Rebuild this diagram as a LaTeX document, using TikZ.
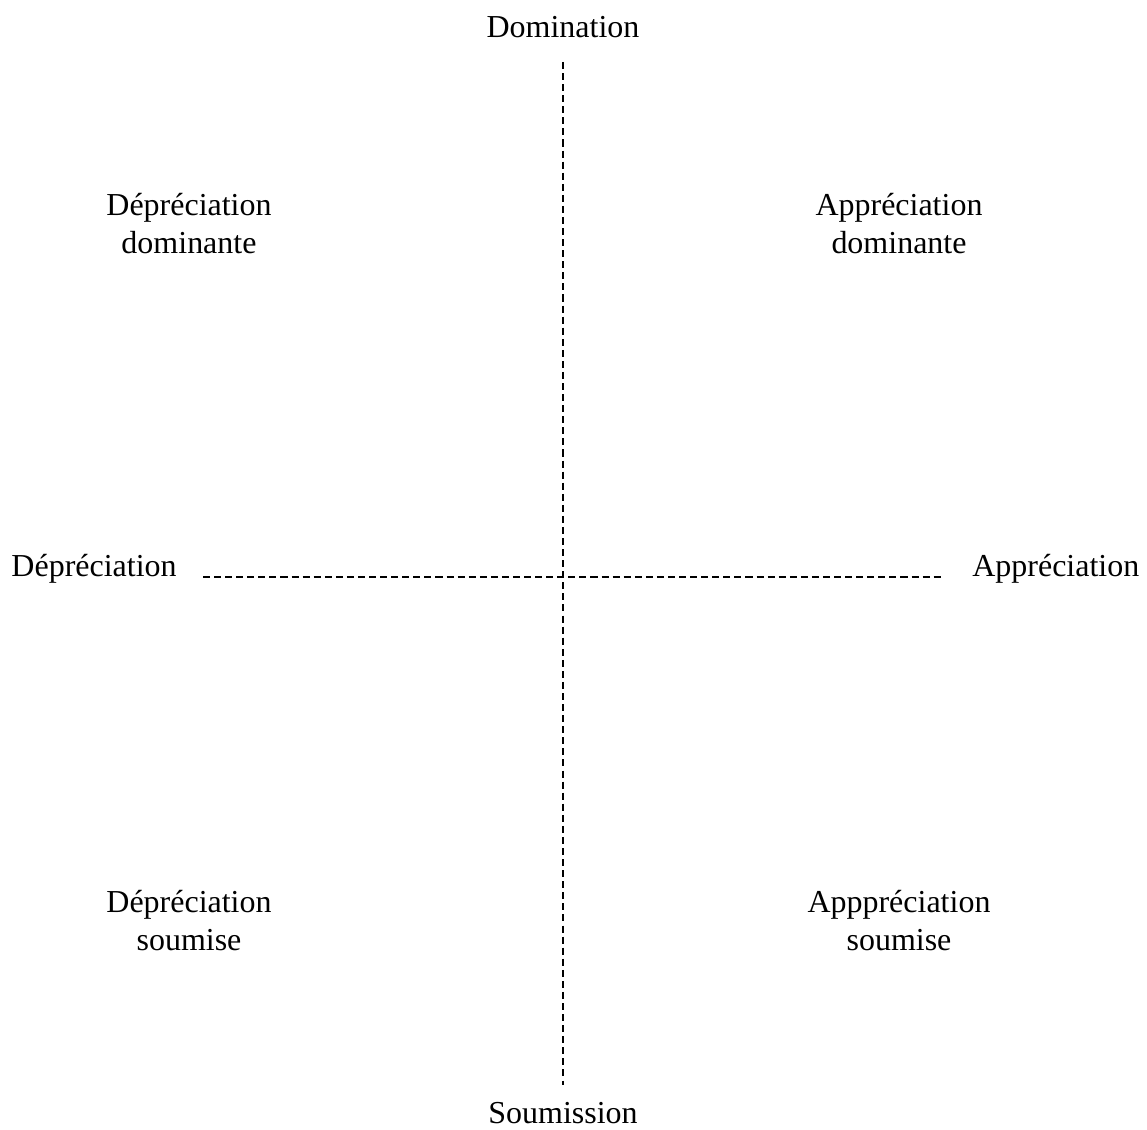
\documentclass[tikz,border=0pt]{standalone}
\usepackage{fontspec}
\setmainfont{Liberation Serif}

\begin{document}
\begin{tikzpicture}[
        axe/.style={dash pattern=on 4pt off 2.3pt, line width=0.75pt},
        etiquette/.style={inner sep=0pt, align=center, font=\fontsize{18.2}{21.6}\selectfont}
    ]
        \useasboundingbox (0,0) rectangle (22.94,22.6);

        % Extremites des axes
        \coordinate (Haut) at (11.26, 21.36);
        \coordinate (Bas) at (11.26, 0.9);
        \coordinate (Gauche) at (4.06, 11.06);
        \coordinate (Droite) at (18.86, 11.06);

        % Axes (tirets)
        \draw[axe] (Haut) -- (Bas);
        \draw[axe] (Gauche) -- (Droite);

        % Poles des axes
        \node[etiquette] (dom) at (11.26, 22.06) {Domination};
        \node[etiquette] (soum) at (11.26, 0.34) {Soumission};
        \node[etiquette, anchor=base east] (dep) at (3.54, 11.06) {Dépréciation};
        \node[etiquette, anchor=base west] (app) at (19.44, 11.06) {Appréciation};

        % Quadrants
        \node[etiquette] (depdom) at (3.78, 18.12) {Dépréciation\\dominante};
        \node[etiquette] (appdom) at (17.98, 18.12) {Appréciation\\dominante};
        \node[etiquette] (depsoum) at (3.78, 4.18) {Dépréciation\\soumise};
        \node[etiquette] (appsoum) at (17.98, 4.18) {Apppréciation\\soumise};

    \end{tikzpicture}
\end{document}
